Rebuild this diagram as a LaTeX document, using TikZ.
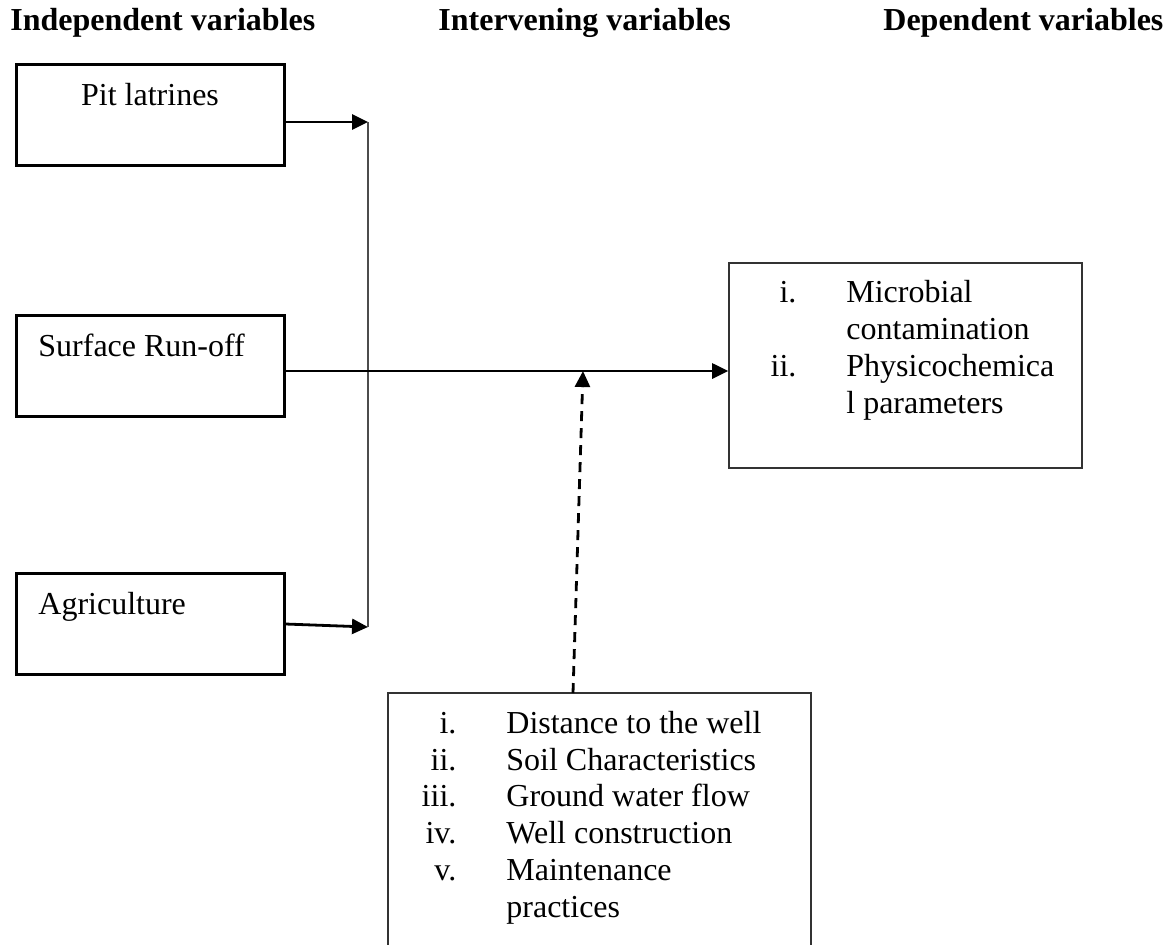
\documentclass[tikz,border=0pt]{standalone}
\usepackage{fontspec}
\setmainfont{Liberation Serif}
\usetikzlibrary{arrows.meta}
\newcommand{\itm}[2]{\makebox[20pt][r]{#1}\hspace{25pt}#2}

\begin{document}
\begin{tikzpicture}[x=0.5pt,y=-0.5pt,
  box/.style={draw, line width=1.5pt, minimum width=134pt, minimum height=50.5pt, inner sep=0pt},
  thinbox/.style={draw, black!80, line width=0.8pt, inner sep=0pt},
  txt/.style={inner sep=0pt, font=\fontsize{16pt}{18.35pt}\selectfont},
  head/.style={txt, font=\fontsize{16pt}{18.35pt}\selectfont\bfseries, anchor=base west},
  arr/.style={line width=1.4pt, -{Triangle[length=8pt,width=7.5pt]}}]
\clip (0,0) rectangle (1172,944);

\node[head] (hind) at (10,30) {Independent variables};
\node[head] (hint) at (438,30) {Intervening variables};
\node[head] (hdep) at (883,30) {Dependent variables};

\node[box] (pit) at (150,114.5) {};
\node[txt, anchor=base] (pitt) at (150,105) {Pit latrines};
\node[box] (surf) at (150,365.5) {};
\node[txt, anchor=base west] (surft) at (38,356) {Surface Run-off};
\node[box] (agri) at (150,624) {};
\node[txt, anchor=base west] (agrit) at (38,614) {Agriculture};

\node[thinbox, minimum width=176.5pt, minimum height=102.5pt] (dep) at (905.5,365.5) {};
\node[txt, align=left, anchor=base west] (dept) at (756,413)
  {\itm{i.}{Microbial}\\ \itm{}{contamination}\\ \itm{ii.}{Physicochemica}\\ \itm{}{l parameters}};

\node[thinbox, minimum width=211.5pt, minimum height=133.5pt] (inter) at (599.5,826.5) {};
\node[txt, align=left, anchor=base west] (intert) at (416,917)
  {\itm{i.}{Distance to the well}\\ \itm{ii.}{Soil Characteristics}\\ \itm{iii.}{Ground water flow}\\
   \itm{iv.}{Well construction}\\ \itm{v.}{Maintenance}\\ \itm{}{practices}};

\coordinate (jt) at (368,122);
\coordinate (jb) at (368,627);
\coordinate (mid) at (583,371);
\coordinate (db) at (573,693);

\draw[arr] (pit.east |- jt) -- (jt);
\draw[arr] (agri.east) -- (jb);
\draw[black!70, line width=0.8pt] (jt) -- (jb);
\draw[arr] (surf.east |- mid) -- (dep.west |- mid);
\draw[arr, dash pattern=on 5pt off 3.5pt] (db) -- (mid);
\end{tikzpicture}
\end{document}
